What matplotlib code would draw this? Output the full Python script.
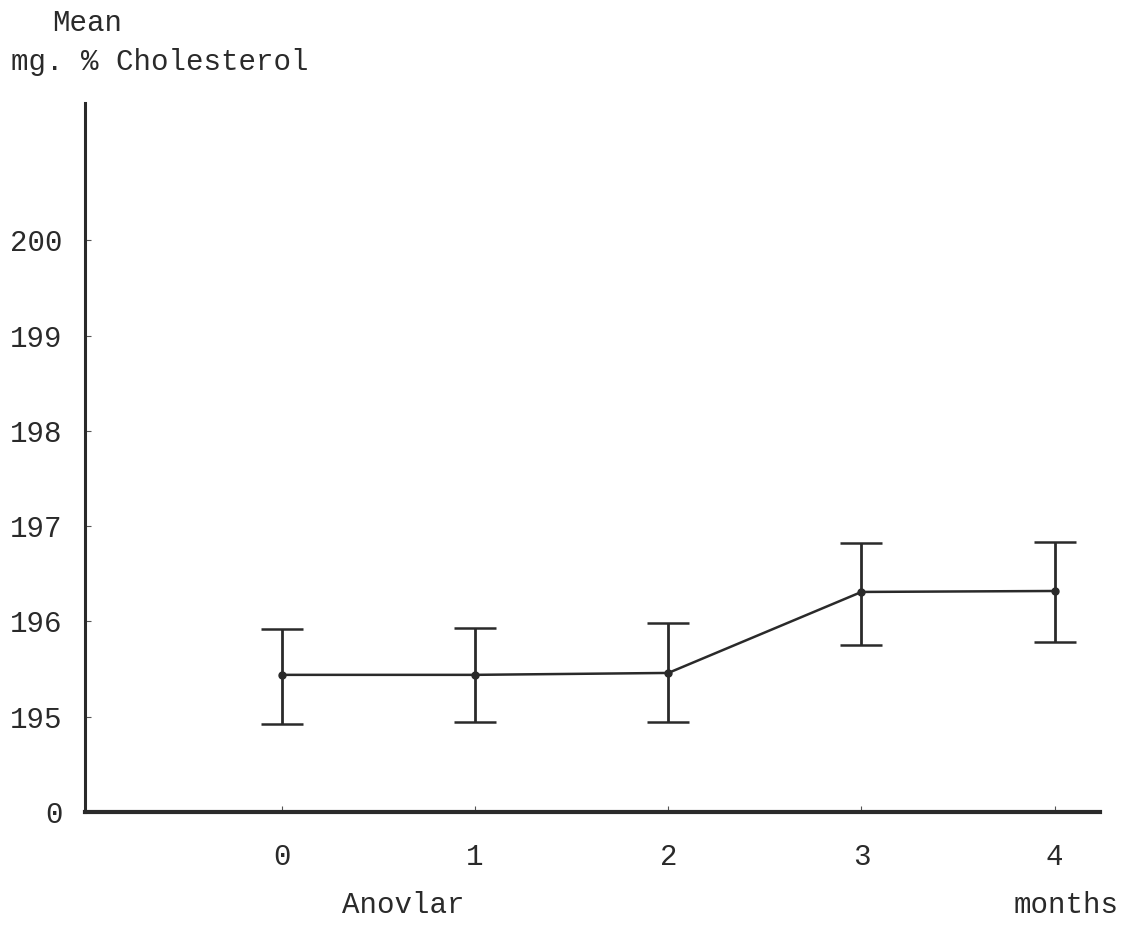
import matplotlib
matplotlib.use("Agg")
from matplotlib import pyplot as plt

months = [0, 1, 2, 3, 4]
mean_chol = [195.44, 195.44, 195.46, 196.31, 196.32]
err_low = [0.52, 0.50, 0.52, 0.56, 0.54]
err_high = [0.48, 0.49, 0.52, 0.51, 0.51]

ytick_vals = [194, 195, 196, 197, 198, 199, 200]
ytick_labels = ['0', '195', '196', '197', '198', '199', '200']

plt.rcParams['font.family'] = ['Liberation Mono', 'DejaVu Sans Mono']
ink = '#2a2a2a'
fs = 21

fig = plt.figure(figsize=(11.3, 9.41), dpi=100)
ax = fig.add_axes([0.0752, 0.137, 0.898, 0.7535])

ax.errorbar(months, mean_chol, yerr=[err_low, err_high], color=ink, lw=1.8,
            elinewidth=2.0, capsize=15, capthick=1.8, marker='o', ms=5)

ax.set_xlim(-1.019, 4.233)
ax.set_ylim(194, 201.44)

ax.spines['top'].set_visible(False)
ax.spines['right'].set_visible(False)
ax.spines['left'].set_linewidth(2.2)
ax.spines['bottom'].set_linewidth(3)
ax.spines['left'].set_color(ink)
ax.spines['bottom'].set_color(ink)

ax.set_xticks(months)
ax.set_xticklabels([str(m) for m in months])
ax.set_yticks(ytick_vals)
ax.set_yticklabels(ytick_labels)
ax.tick_params(axis='both', direction='in', length=4, width=0.8, colors='#555555',
               labelcolor=ink, labelsize=fs)
ax.tick_params(axis='x', pad=22)
ax.tick_params(axis='y', pad=16)

fig.text(0.046, 0.976, 'Mean', fontsize=fs, color=ink, va='center')
fig.text(0.010, 0.934, 'mg. % Cholesterol', fontsize=fs, color=ink, va='center')
fig.text(0.357, 0.038, 'Anovlar', fontsize=fs, color=ink, va='center', ha='center')
fig.text(0.943, 0.038, 'months', fontsize=fs, color=ink, va='center', ha='center')

fig.savefig('out.png', dpi=100, facecolor='white')
